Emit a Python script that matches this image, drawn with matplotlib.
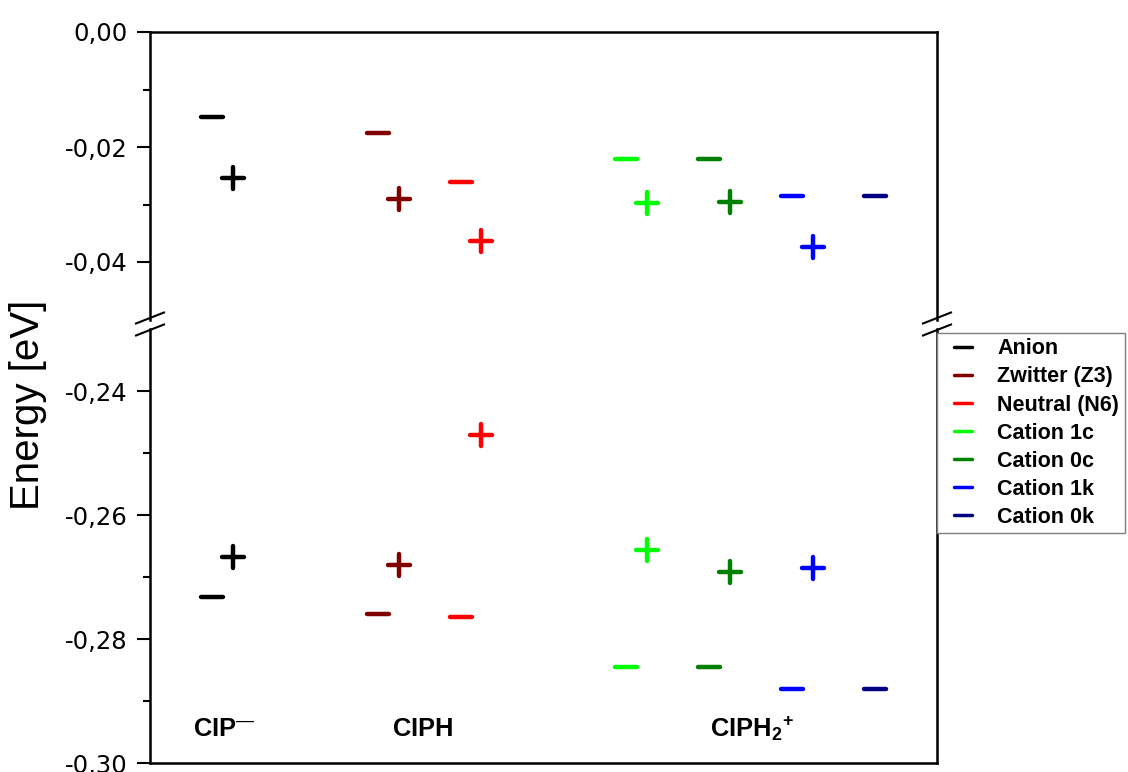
import matplotlib
matplotlib.use("Agg")
import matplotlib.pyplot as plt
from matplotlib.lines import Line2D
from matplotlib.markers import MarkerStyle
from matplotlib.ticker import FuncFormatter, FixedLocator
import numpy as np

plt.rcParams['font.family'] = ['Liberation Sans', 'DejaVu Sans']
plt.rcParams['mathtext.fontset'] = 'custom'
plt.rcParams['mathtext.rm'] = 'Liberation Sans'
plt.rcParams['mathtext.bf'] = 'Liberation Sans:bold'
plt.rcParams['mathtext.it'] = 'Liberation Sans:italic'

# ---- data -------------------------------------------------------------
species = ["Anion", "Zwitter (Z3)", "Neutral (N6)", "Cation 1c",
           "Cation 0c", "Cation 1k", "Cation 0k"]
colors = ["#000000", "#800000", "#FF0000", "#00FF00",
          "#008000", "#0000FF", "#000080"]

# upper energy window (eV)
minus_upper = [-0.0148, -0.0176, -0.0261, -0.0221, -0.0220, -0.0286, -0.0285]
plus_upper = [-0.0254, -0.0290, -0.0363, -0.0297, -0.0296, -0.0374, np.nan]
# lower energy window (eV)
minus_lower = [-0.2733, -0.2759, -0.2764, -0.2845, -0.2845, -0.2880, -0.2881]
plus_lower = [-0.2667, -0.2681, -0.2471, -0.2656, -0.2692, -0.2686, np.nan]

group_labels = [r'$\mathbf{CIP}^{\mathrm{—}}$', r'$\mathbf{CIPH}$',
                r'$\mathbf{CIPH}_{\mathbf{2}}{}^{\mathbf{+}}$']

upper_major = [0.00, -0.02, -0.04]
upper_minor = [-0.01, -0.03]
lower_major = [-0.24, -0.26, -0.28, -0.30]
lower_minor = [-0.25, -0.27, -0.29]

# ---- layout -----------------------------------------------------------
slots = [1, 3, 4, 6, 7, 8, 9]          # x slot of each species
plus_shift = 0.25
group_x = [0.77, 3.17, 7.01]
group_y = -0.2957

W, H = 1128, 772
fig = plt.figure(figsize=(W / 100, H / 100), dpi=100)


def axes_px(left, top, right, bottom):
    return fig.add_axes([left / W, 1 - bottom / H, (right - left) / W, (bottom - top) / H])


ax_top = axes_px(150, 32, 937, 319.5)
ax_bot = axes_px(150, 329, 937, 763)

m_minus = MarkerStyle('_', capstyle='round')
m_plus = MarkerStyle('+', capstyle='round')

for ax, mins, plus in ((ax_top, minus_upper, plus_upper),
                       (ax_bot, minus_lower, plus_lower)):
    for x, c, ym, yp in zip(slots, colors, mins, plus):
        ax.plot([x], [ym], ls='none', marker=m_minus, ms=15.5, mew=3.2, color=c)
        if not np.isnan(yp):
            ax.plot([x + plus_shift], [yp], ls='none', marker=m_plus, ms=15.5, mew=3.2, color=c)
    ax.set_xlim(0.25, 9.75)
    ax.tick_params(axis='x', which='both', bottom=False, top=False, labelbottom=False)
    ax.tick_params(axis='y', which='major', direction='out', length=9.5, width=1.5,
                   labelsize=17.5, pad=6.5, right=False, labelfontfamily='DejaVu Sans')
    ax.tick_params(axis='y', which='minor', direction='out', length=5, width=1.5, right=False)
    ax.yaxis.set_major_formatter(FuncFormatter(lambda v, p: f"{v:.2f}".replace('.', ',')))
    for s in ax.spines.values():
        s.set_linewidth(1.8)

ax_top.set_ylim(-0.05, 0.0)
ax_top.yaxis.set_major_locator(FixedLocator(upper_major))
ax_top.yaxis.set_minor_locator(FixedLocator(upper_minor))
ax_top.spines['bottom'].set_visible(False)

ax_bot.set_ylim(-0.30, -0.23)
ax_bot.yaxis.set_major_locator(FixedLocator(lower_major))
ax_bot.yaxis.set_minor_locator(FixedLocator(lower_minor))
ax_bot.spines['top'].set_visible(False)

for gx, lab in zip(group_x, group_labels):
    ax_bot.text(gx, group_y, lab, fontsize=18.4, ha='left', va='baseline')

# axis-break marks on both sides
for xb in (150, 937):
    for yb in (318, 330):
        fig.add_artist(Line2D([(xb - 14) / W, (xb + 14) / W],
                              [1 - (yb + 5.5) / H, 1 - (yb - 5.5) / H],
                              transform=fig.transFigure, color='black', lw=1.5))

fig.text(28 / W, 1 - 405 / H, 'Energy [eV]', rotation=90, fontsize=29,
         ha='center', va='center')

handles = [Line2D([], [], ls='none', marker=m_minus, ms=12.5, mew=2.5, color=c)
           for c in colors]
leg = fig.legend(handles, species, loc='upper left',
                 bbox_to_anchor=(937 / W, 1 - 333 / H), bbox_transform=fig.transFigure,
                 borderaxespad=0, frameon=True, fancybox=False, framealpha=1,
                 edgecolor='#7f7f7f', prop={'weight': 'bold', 'size': 15.5},
                 handlelength=1.95, handletextpad=0.6, labelspacing=0.33,
                 borderpad=0.25, numpoints=1)
leg.get_frame().set_linewidth(1.0)

fig.savefig('out.png', dpi=100)
